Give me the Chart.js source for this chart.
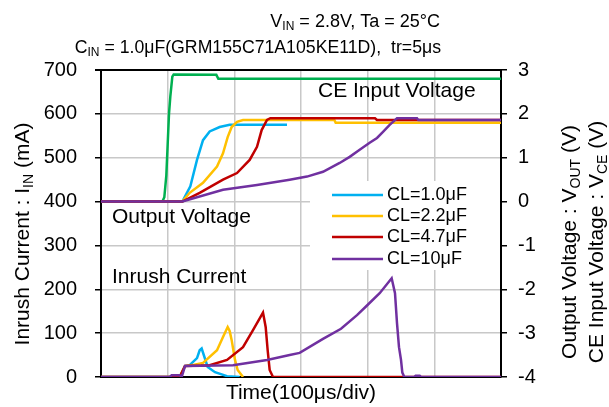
<!DOCTYPE html>
<html>
<head>
<meta charset="utf-8">
<script src="https://cdn.jsdelivr.net/npm/chart.js@4.4.1/dist/chart.umd.min.js"></script>
<style>
  html, body { margin: 0; padding: 0; background: #fff; }
  #wrap { width: 609px; height: 407px; }
</style>
</head>
<body>
<div id="wrap"><canvas id="grafico" width="609" height="407"></canvas></div>
<script>
// tiempo en us (100us/div), corriente en mA, tension en V
const tVce = [0, 92, 95, 98, 100, 102, 104, 107, 109, 173, 176, 600];
const vVce = [0, 0, 0.1, 0.6, 1.3, 2.0, 2.4, 2.85, 2.9, 2.89, 2.8, 2.8];

const tV10 = [0, 122, 134, 144, 153, 163, 178, 193, 279];
const vV10 = [0, 0, 0.35, 0.95, 1.4, 1.6, 1.7, 1.75, 1.75];

const tV22 = [0, 122, 133, 153, 174, 183, 190, 196, 204, 213, 350, 352, 600];
const vV22 = [0, 0, 0.2, 0.43, 0.8, 1.1, 1.47, 1.7, 1.82, 1.86, 1.86, 1.8, 1.8];

const tV47 = [0, 122, 148, 183, 204, 223, 234, 241, 249, 254, 411, 414, 600];
const vV47 = [0, 0, 0.2, 0.5, 0.65, 0.95, 1.25, 1.63, 1.86, 1.9, 1.9, 1.86, 1.86];

const tV100 = [0, 122, 183, 234, 283, 309, 333, 358, 373, 388, 403, 414, 423, 433, 444, 474, 476, 600];
const vV100 = [0, 0, 0.27, 0.38, 0.5, 0.57, 0.68, 0.88, 1.02, 1.18, 1.34, 1.45, 1.59, 1.75, 1.9, 1.9, 1.86, 1.86];

const tI10 = [0, 118, 126, 133, 144, 148, 151, 160, 171, 189, 208];
const iI10 = [0, 0, 25, 27, 43, 61, 65, 23, 11, 2, 0];

const tI22 = [0, 118, 126, 140, 153, 174, 183, 190, 193, 196, 201, 205, 213];
const iI22 = [0, 0, 25, 28, 32, 61, 91, 114, 105, 84, 39, 16, 0];

const tI47 = [0, 118, 126, 150, 163, 189, 213, 228, 243, 247, 250, 253, 258, 600];
const iI47 = [0, 0, 25, 26, 27, 39, 68, 107, 147, 114, 61, 16, 0, 0];

const tI100 = [0, 103, 106, 118, 121, 126, 198, 249, 283, 298, 333, 360, 384, 399, 418, 436, 441, 444, 447, 450, 452, 455, 470, 472, 478, 480, 600];
const iI100 = [0, 0, 4, 4, 0, 25, 27, 39, 50, 55, 87, 110, 141, 163, 191, 225, 191, 123, 68, 39, 10, 0, 0, 3, 3, 0, 0];

const tNegro = [123, 213];
const iNegro = [0, 0];

const etiquetas = ["CL=1.0μF", "CL=2.2μF", "CL=4.7μF", "CL=10μF"];
const colores = ["#00b0f0", "#ffc000", "#c00000", "#7030a0"];
const colorCE = "#00b050";

const FUENTE = "'Liberation Sans', Arial, sans-serif";

function puntos(t, v) {
  return t.map((x, i) => ({ x: x, y: v[i] }));
}

function serie(label, t, v, color, eje, ancho) {
  return {
    label, data: puntos(t, v), borderColor: color, backgroundColor: color,
    borderWidth: ancho || 2.5, pointRadius: 0, tension: 0, yAxisID: eje, fill: false
  };
}

// texto con subindices: partes = [[texto, esSub], ...]
function textoRico(ctx, partes, x, y, align, size) {
  const sub = Math.round(size * 0.68);
  let total = 0;
  const anchos = partes.map(p => {
    ctx.font = (p[1] ? sub : size) + "px " + FUENTE;
    const w = ctx.measureText(p[0]).width;
    total += w;
    return w;
  });
  let px = align === "right" ? x - total : align === "center" ? x - total / 2 : x;
  ctx.textAlign = "left";
  ctx.textBaseline = "middle";
  partes.forEach((p, i) => {
    ctx.font = (p[1] ? sub : size) + "px " + FUENTE;
    ctx.fillText(p[0], px, p[1] ? y + size * 0.28 : y);
    px += anchos[i];
  });
}

const textos = {
  id: "textos",
  beforeDatasetsDraw(chart) {
    const ctx = chart.ctx;
    const a = chart.chartArea;
    ctx.save();
    // caja de leyenda
    ctx.fillStyle = "#fff";
    ctx.fillRect(310, 181, a.right - 311, 89);
    ctx.restore();
  },
  afterDraw(chart) {
    const ctx = chart.ctx;
    const a = chart.chartArea;
    ctx.save();
    ctx.fillStyle = "#000";
    ctx.strokeStyle = "#000";

    // borde superior
    ctx.lineWidth = 2;
    ctx.beginPath();
    ctx.moveTo(a.left - 6, a.top);
    ctx.lineTo(a.right, a.top);
    ctx.stroke();

    textoRico(ctx, [["V", 0], ["IN", 1], [" = 2.8V, Ta = 25°C", 0]], 440, 22, "right", 18);
    textoRico(ctx, [["C", 0], ["IN", 1], [" = 1.0μF(GRM155C71A105KE11D),  tr=5μs", 0]], 441, 48, "right", 17.7);

    textoRico(ctx, [["CE Input Voltage", 0]], 318, 91, "left", 21);
    textoRico(ctx, [["Output Voltage", 0]], 112, 217, "left", 21);
    textoRico(ctx, [["Inrush Current", 0]], 112, 277, "left", 21);
    textoRico(ctx, [["Time(100μs/div)", 0]], (a.left + a.right) / 2, 393, "center", 21);

    ctx.save();
    ctx.translate(23, 234);
    ctx.rotate(-Math.PI / 2);
    textoRico(ctx, [["Inrush Current : I", 0], ["IN", 1], [" (mA)", 0]], 0, 0, "center", 21);
    ctx.restore();

    ctx.save();
    ctx.translate(570, 242);
    ctx.rotate(-Math.PI / 2);
    textoRico(ctx, [["Output Voltage : V", 0], ["OUT", 1], [" (V)", 0]], 0, 0, "center", 21);
    ctx.restore();

    ctx.save();
    ctx.translate(597, 242);
    ctx.rotate(-Math.PI / 2);
    textoRico(ctx, [["CE Input Voltage : V", 0], ["CE", 1], [" (V)", 0]], 0, 0, "center", 21);
    ctx.restore();

    // leyenda
    const filas = [195, 216, 237, 259];
    etiquetas.forEach((et, i) => {
      ctx.strokeStyle = colores[i];
      ctx.lineWidth = 2.5;
      ctx.beginPath();
      ctx.moveTo(332, filas[i]);
      ctx.lineTo(383, filas[i]);
      ctx.stroke();
      ctx.fillStyle = "#000";
      textoRico(ctx, [[et, 0]], 387, filas[i], "left", 18);
    });
    ctx.restore();
  }
};

Chart.defaults.font.family = FUENTE;
Chart.defaults.color = "#000";

const grafico = new Chart(document.getElementById("grafico").getContext("2d"), {
  type: "line",
  data: {
    datasets: [
      serie("V 10", tV100, vV100, colores[3], "y1"),
      serie("I 10", tI100, iI100, colores[3], "y"),
      serie("V 4.7", tV47, vV47, colores[2], "y1"),
      serie("I 4.7", tI47, iI47, colores[2], "y"),
      serie("V 2.2", tV22, vV22, colores[1], "y1"),
      serie("I 2.2", tI22, iI22, colores[1], "y"),
      serie("V 1.0", tV10, vV10, colores[0], "y1"),
      serie("I 1.0", tI10, iI10, colores[0], "y"),
      serie("VCE", tVce, vVce, colorCE, "y1"),
      serie("negro", tNegro, iNegro, "#000", "y", 2)
    ]
  },
  options: {
    responsive: false,
    animation: false,
    layout: { padding: { top: 70, left: 0, right: 0, bottom: 0 } },
    plugins: { legend: { display: false }, tooltip: { enabled: false }, title: { display: false } },
    scales: {
      x: {
        type: "linear", min: 0, max: 600,
        ticks: { stepSize: 100, display: false },
        grid: { color: "#c8c8c8", lineWidth: 1.5, drawTicks: false },
        border: { color: "#000", width: 2 },
        afterFit: s => { s.height = 30; }
      },
      y: {
        position: "left", min: 0, max: 700,
        ticks: { stepSize: 100, font: { size: 20 }, padding: 18, color: "#000" },
        grid: { color: "#c8c8c8", lineWidth: 1.5, tickColor: "#000", tickLength: 6 },
        border: { color: "#000", width: 2 },
        afterFit: s => { s.width = 101; }
      },
      y1: {
        position: "right", min: -4, max: 3,
        ticks: { stepSize: 1, font: { size: 20 }, padding: 11, color: "#000" },
        grid: { drawOnChartArea: false, tickColor: "#000", tickLength: 6, lineWidth: 1.5 },
        border: { color: "#000", width: 2 },
        afterFit: s => { s.width = 108; }
      }
    }
  },
  plugins: [textos]
});
</script>
</body>
</html>
